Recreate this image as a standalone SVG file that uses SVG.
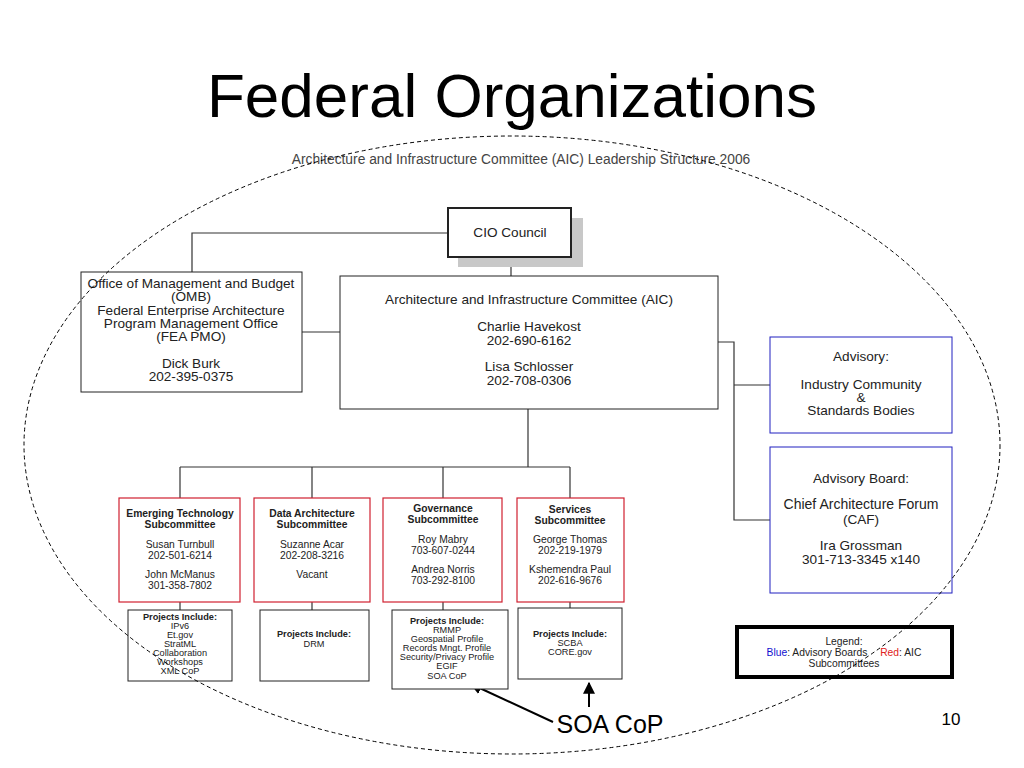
<svg xmlns="http://www.w3.org/2000/svg" width="1024" height="768" viewBox="0 0 1024 768">
<defs>
<style>
text{font-family:"Liberation Sans",Arial,sans-serif;fill:#222;text-anchor:middle}
.t12{font-size:13.6px}
.t14{font-size:14px}
.t9{font-size:10.3px}
.t8{font-size:9.2px}
.b{font-weight:bold}
.box{fill:#fff;stroke:#222;stroke-width:1}
.red{fill:#fff;stroke:#d02030;stroke-width:1.2}
.blue{fill:#fff;stroke:#2020c0;stroke-width:1}
.conn{fill:none;stroke:#333;stroke-width:1.2}
</style>
<marker id="ah" viewBox="0 0 10 10" refX="9" refY="5" markerWidth="6" markerHeight="6" markerUnits="strokeWidth" orient="auto">
<path d="M0,0 L10,5 L0,10 z" fill="#000"/>
</marker>
</defs>
<rect width="1024" height="768" fill="#fff"/>
<text x="512" y="117" style="font-size:62px;fill:#000">Federal Organizations</text>
<text x="521" y="164" style="font-size:13.8px;fill:#444">Architecture and Infrastructure Committee (AIC) Leadership Structure  2006</text>

<g id="connectors">
<polyline class="conn" points="448,233 192,233 192,272"/>
<line class="conn" x1="511" y1="257" x2="511" y2="276"/>
<line class="conn" x1="302" y1="332" x2="340" y2="332"/>
<polyline class="conn" points="718,342 734,342 734,520 770,520"/>
<line class="conn" x1="734" y1="385" x2="770" y2="385"/>
<line class="conn" x1="528" y1="409" x2="528" y2="467"/>
<line class="conn" x1="180" y1="467" x2="570" y2="467"/>
<line class="conn" x1="180" y1="467" x2="180" y2="498"/>
<line class="conn" x1="312" y1="467" x2="312" y2="498"/>
<line class="conn" x1="443" y1="467" x2="443" y2="498"/>
<line class="conn" x1="570" y1="467" x2="570" y2="498"/>
<line class="conn" x1="180" y1="602" x2="180" y2="610"/>
<line class="conn" x1="312" y1="602" x2="312" y2="610"/>
<line class="conn" x1="443" y1="602" x2="443" y2="610"/>
<line class="conn" x1="570" y1="602" x2="570" y2="608"/>
<line stroke="#000" stroke-width="2" x1="553" y1="722" x2="471" y2="684" marker-end="url(#ah)"/>
<line stroke="#000" stroke-width="2" x1="589" y1="707" x2="589" y2="683" marker-end="url(#ah)"/>
</g>

<g id="cio">
<rect x="458" y="218" width="125" height="49" fill="#c8c8c8"/>
<rect x="448" y="208" width="123" height="49" fill="#fff" stroke="#222" stroke-width="2"/>
<text class="t12" x="510" y="237">CIO Council</text>
</g>

<g id="omb">
<rect x="81" y="272" width="221" height="120" class="box" stroke-width="3"/>
<rect x="83" y="274" width="217" height="116" fill="none" stroke="#fff" stroke-width="1"/>
<text class="t12" x="191" y="288">Office of Management and Budget</text>
<text class="t12" x="191" y="301">(OMB)</text>
<text class="t12" x="191" y="315">Federal Enterprise Architecture</text>
<text class="t12" x="191" y="328">Program Management Office</text>
<text class="t12" x="191" y="341">(FEA PMO)</text>
<text class="t12" x="191" y="368">Dick Burk</text>
<text class="t12" x="191" y="381">202-395-0375</text>
</g>

<g id="aic">
<rect x="340" y="276" width="378" height="133" class="box" stroke-width="3"/>
<rect x="342" y="278" width="374" height="129" fill="none" stroke="#fff" stroke-width="1"/>
<text class="t12" x="529" y="304">Architecture and Infrastructure Committee (AIC)</text>
<text class="t12" x="529" y="331">Charlie Havekost</text>
<text class="t12" x="529" y="345">202-690-6162</text>
<text class="t12" x="529" y="371">Lisa Schlosser</text>
<text class="t12" x="529" y="385">202-708-0306</text>
</g>

<g id="advisory">
<rect x="770" y="337" width="182" height="96" class="blue" stroke-width="3"/>
<rect x="772" y="339" width="178" height="92" fill="none" stroke="#fff" stroke-width="1"/>
<text class="t12" x="861" y="361">Advisory:</text>
<text class="t12" x="861" y="389">Industry Community</text>
<text class="t12" x="861" y="402">&amp;</text>
<text class="t12" x="861" y="415">Standards Bodies</text>
</g>

<g id="caf">
<rect x="770" y="447" width="182" height="146" class="blue" stroke-width="3"/>
<rect x="772" y="449" width="178" height="142" fill="none" stroke="#fff" stroke-width="1"/>
<text class="t12" x="861" y="483">Advisory Board:</text>
<text class="t14" x="861" y="509">Chief Architecture Forum</text>
<text class="t12" x="861" y="524">(CAF)</text>
<text class="t12" x="861" y="550">Ira Grossman</text>
<text class="t12" x="861" y="564">301-713-3345 x140</text>
</g>

<g id="emerging">
<rect x="119" y="498" width="121" height="104" class="red"/>
<text class="t9 b" x="180" y="517">Emerging Technology</text>
<text class="t9 b" x="180" y="528">Subcommittee</text>
<text class="t9" x="180" y="548">Susan Turnbull</text>
<text class="t9" x="180" y="559">202-501-6214</text>
<text class="t9" x="180" y="578">John McManus</text>
<text class="t9" x="180" y="589">301-358-7802</text>
</g>

<g id="data">
<rect x="254" y="498" width="116" height="104" class="red"/>
<text class="t9 b" x="312" y="517">Data Architecture</text>
<text class="t9 b" x="312" y="528">Subcommittee</text>
<text class="t9" x="312" y="548">Suzanne Acar</text>
<text class="t9" x="312" y="559">202-208-3216</text>
<text class="t9" x="312" y="578">Vacant</text>
</g>

<g id="governance">
<rect x="383" y="498" width="119" height="104" class="red"/>
<text class="t9 b" x="443" y="512">Governance</text>
<text class="t9 b" x="443" y="523">Subcommittee</text>
<text class="t9" x="443" y="543">Roy Mabry</text>
<text class="t9" x="443" y="554">703-607-0244</text>
<text class="t9" x="443" y="573">Andrea Norris</text>
<text class="t9" x="443" y="584">703-292-8100</text>
</g>

<g id="services">
<rect x="517" y="498" width="107" height="104" class="red"/>
<text class="t9 b" x="570" y="513">Services</text>
<text class="t9 b" x="570" y="524">Subcommittee</text>
<text class="t9" x="570" y="543">George Thomas</text>
<text class="t9" x="570" y="554">202-219-1979</text>
<text class="t9" x="570" y="573">Kshemendra Paul</text>
<text class="t9" x="570" y="584">202-616-9676</text>
</g>

<g id="proj1">
<rect x="128" y="610" width="104" height="71" class="box"/>
<text class="t8 b" x="180" y="620">Projects Include:</text>
<text class="t8" x="180" y="629">IPv6</text>
<text class="t8" x="180" y="638">Et.gov</text>
<text class="t8" x="180" y="647">StratML</text>
<text class="t8" x="180" y="656">Collaboration</text>
<text class="t8" x="180" y="665">Workshops</text>
<text class="t8" x="180" y="674">XML CoP</text>
</g>

<g id="proj2">
<rect x="260" y="610" width="109" height="71" class="box"/>
<text class="t8 b" x="314" y="637">Projects Include:</text>
<text class="t8" x="314" y="647">DRM</text>
</g>

<g id="proj3">
<rect x="392" y="610" width="116" height="79" class="box"/>
<text class="t8 b" x="447" y="624">Projects Include:</text>
<text class="t8" x="447" y="633">RMMP</text>
<text class="t8" x="447" y="642">Geospatial Profile</text>
<text class="t8" x="447" y="651">Records Mngt. Profile</text>
<text class="t8" x="447" y="660">Security/Privacy Profile</text>
<text class="t8" x="447" y="669">EGIF</text>
<text class="t8" x="447" y="679">SOA CoP</text>
</g>

<g id="proj4">
<rect x="518" y="608" width="104" height="71" class="box"/>
<text class="t8 b" x="570" y="637">Projects Include:</text>
<text class="t8" x="570" y="646">SCBA</text>
<text class="t8" x="570" y="655">CORE.gov</text>
</g>

<g id="legend">
<rect x="737" y="627" width="215" height="50" fill="#fff" stroke="#000" stroke-width="4"/>
<text class="t9" x="844" y="645">Legend:</text>
<text class="t9" x="844" y="656"><tspan fill="#1010d0">Blue</tspan>: Advisory Boards <tspan dx="10" fill="#e02020">Red</tspan>: AIC</text>
<text class="t9" x="844" y="667">Subcommittees</text>
</g>

<ellipse cx="512" cy="445" rx="488" ry="309" fill="none" stroke="#000" stroke-width="1" stroke-dasharray="4,3"/>

<text x="610" y="733" style="font-size:25px;fill:#000">SOA CoP</text>
<text x="951" y="725" style="font-size:17px;fill:#000">10</text>
</svg>
